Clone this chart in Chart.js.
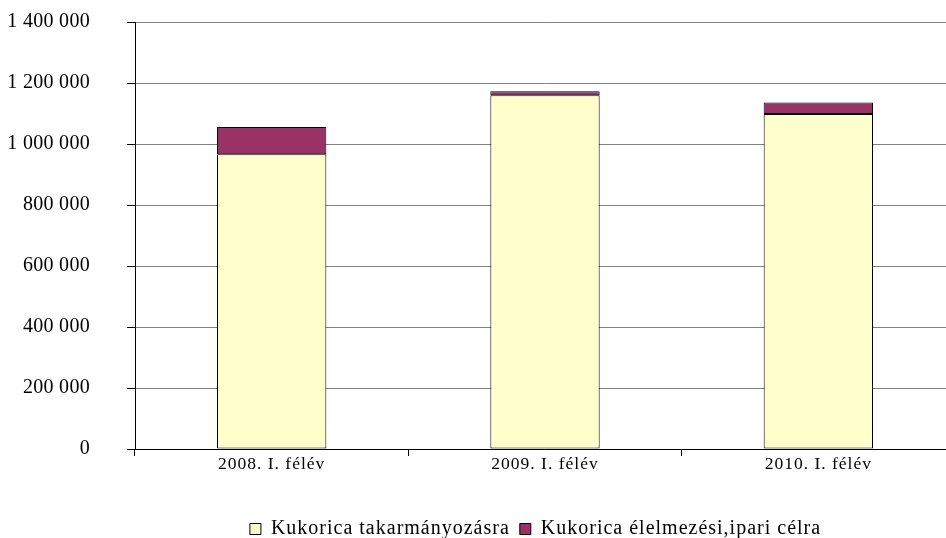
<!DOCTYPE html>
<html>
<head>
<meta charset="utf-8">
<script src="https://cdn.jsdelivr.net/npm/chart.js@4/dist/chart.umd.min.js"></script>
<style>
  html, body { margin: 0; padding: 0; background: #fff; overflow: hidden; }
  #wrap { width: 955px; height: 538px; position: relative; }
</style>
</head>
<body>
<div id="wrap"><canvas id="cornChart"></canvas></div>
<script>
// values
var categories = ['2008. I. félév', '2009. I. félév', '2010. I. félév'];
var feedValues = [966000, 1160000, 1098000];
var industryValues = [90000, 13000, 38000];
var seriesNames = ['Kukorica takarmányozásra', 'Kukorica élelmezési,ipari célra'];
var yMax = 1400000;
var yStep = 200000;

var serif = '"Liberation Serif", "Times New Roman", serif';

function formatThousands(v) {
  return String(v).replace(/\B(?=(\d{3})+(?!\d))/g, ' ');
}

// the original text is spaced out a bit; y labels (drawn after the bars) less so
var spacingPlugin = {
  id: 'spacing',
  beforeLayout: function(chart) { chart.ctx.letterSpacing = '1px'; },
  afterLayout: function(chart) {
    // legend sits right of centre in the original
    chart.legend.left += 55;
    chart.legend.right += 55;
  },
  beforeDraw: function(chart) { chart.ctx.letterSpacing = '1px'; },
  afterDatasetsDraw: function(chart) { chart.ctx.letterSpacing = '0.3px'; }
};

document.addEventListener('DOMContentLoaded', function() {
  var ctx = document.getElementById('cornChart').getContext('2d');
  new Chart(ctx, {
    type: 'bar',
    data: {
      labels: categories,
      datasets: [
        {
          label: seriesNames[0],
          data: feedValues,
          backgroundColor: '#FFFFCC',
          borderColor: '#000000',
          borderWidth: 1,
          borderSkipped: false
        },
        {
          label: seriesNames[1],
          data: industryValues,
          backgroundColor: '#993366',
          borderColor: '#000000',
          borderWidth: 1,
          borderSkipped: false
        }
      ]
    },
    options: {
      responsive: true,
      maintainAspectRatio: false,
      animation: false,
      barPercentage: 0.4,
      categoryPercentage: 1.0,
      layout: {
        padding: { left: 6, top: 22, right: 0, bottom: -11 }
      },
      plugins: {
        tooltip: { enabled: false },
        legend: {
          position: 'bottom',
          labels: {
            color: '#000',
            boxWidth: 11,
            boxHeight: 11,
            padding: 10,
            font: { family: serif, size: 20 }
          }
        }
      },
      scales: {
        x: {
          stacked: true,
          afterFit: function(scale) { scale.height = 60; },
          grid: {
            offset: true,
            drawOnChartArea: false,
            drawTicks: true,
            tickLength: 7,
            color: '#000'
          },
          border: { color: '#000', width: 1 },
          ticks: {
            color: '#000',
            padding: -2,
            maxRotation: 0,
            font: { family: serif, size: 17.5 }
          }
        },
        y: {
          stacked: true,
          min: 0,
          max: yMax,
          afterFit: function(scale) {
            scale.width = 129;
            scale.paddingTop = 0;
            scale.paddingBottom = 0;
          },
          grid: {
            color: '#808080',
            tickColor: '#000',
            tickLength: 8
          },
          border: { color: '#000', width: 1 },
          ticks: {
            z: 1,
            stepSize: yStep,
            color: '#000',
            padding: 37,
            font: { family: serif, size: 20 },
            callback: function(value) { return formatThousands(value); }
          }
        }
      }
    },
    plugins: [spacingPlugin]
  });
});
</script>
</body>
</html>
